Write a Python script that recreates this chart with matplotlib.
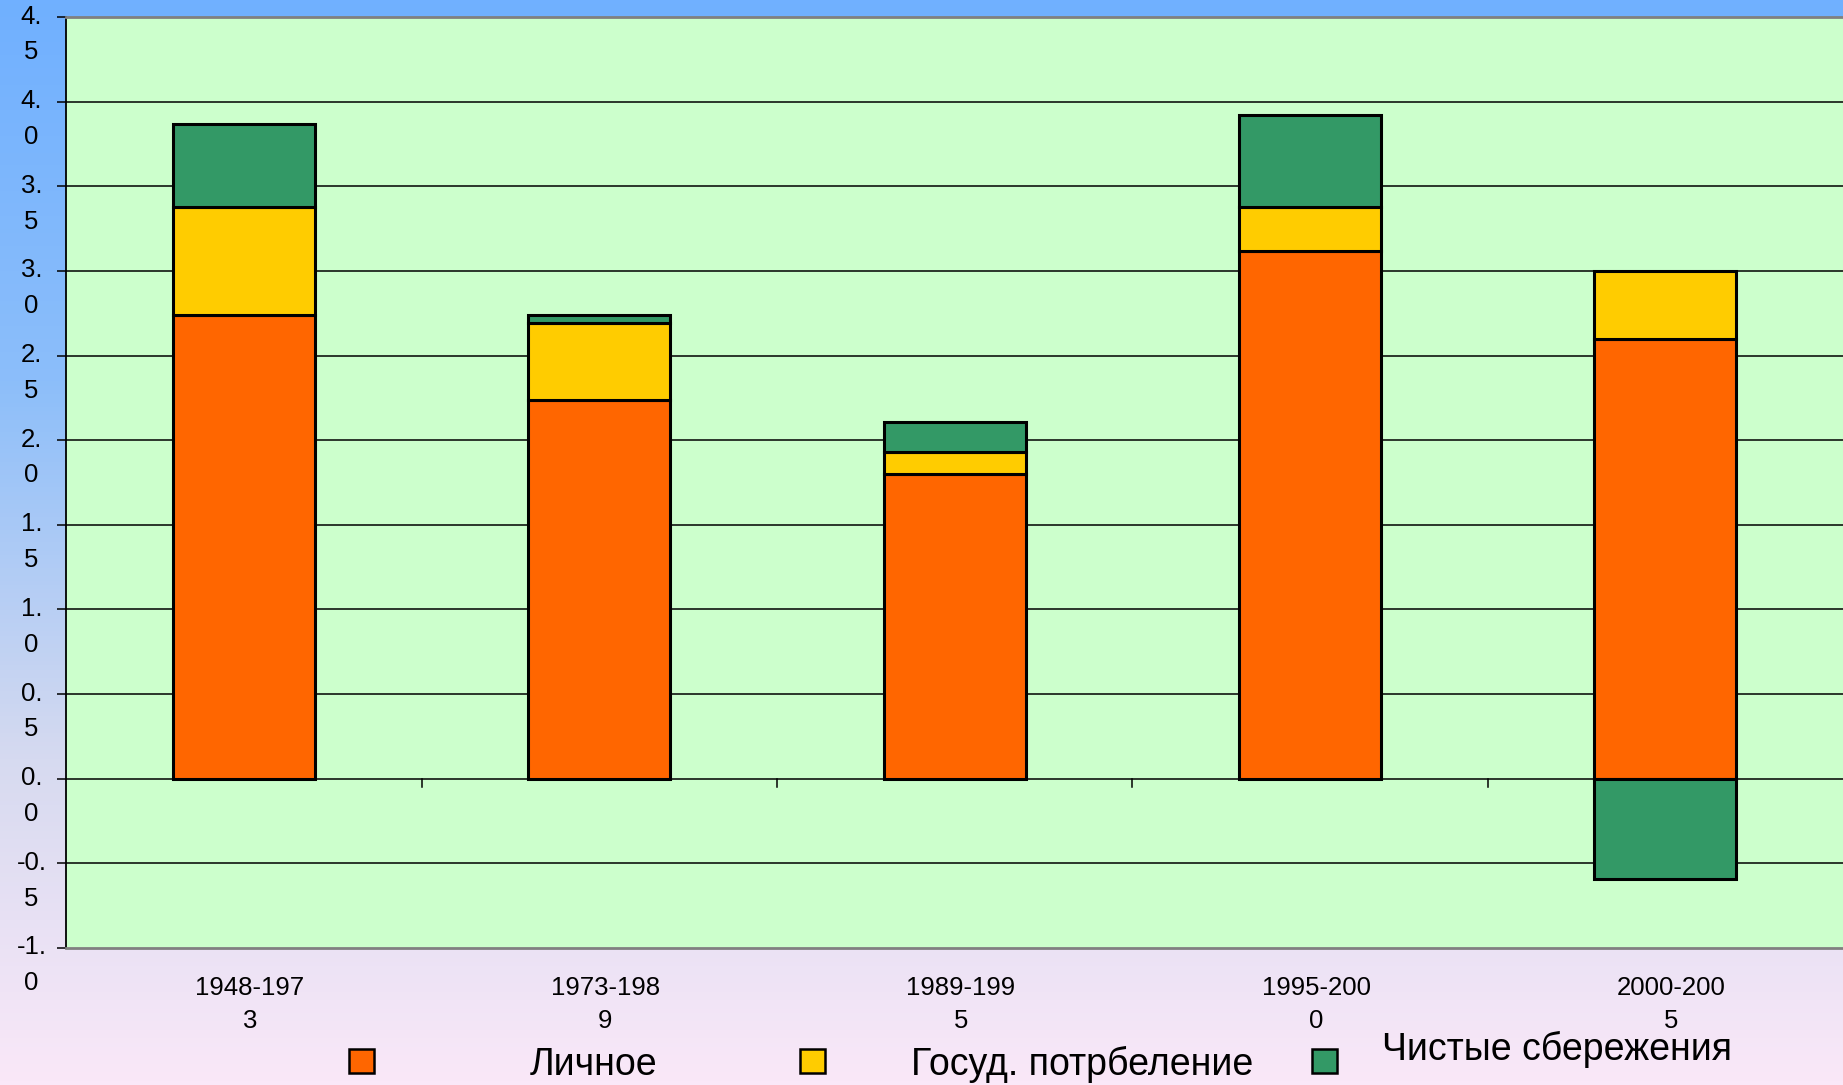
import numpy as np
import matplotlib
matplotlib.use('Agg')
import matplotlib.pyplot as plt
import matplotlib.transforms as mtransforms
from matplotlib.patches import Rectangle
from matplotlib.colors import LinearSegmentedColormap

plt.rcParams['font.family'] = ['Liberation Sans', 'DejaVu Sans']

# data
periods = ['1948-197\n3', '1973-198\n9', '1989-199\n5', '1995-200\n0', '2000-200\n5']
personal = [2.74, 2.24, 1.80, 3.12, 2.60]
govern = [0.64, 0.45, 0.13, 0.26, 0.40]
savings = [0.49, 0.05, 0.18, 0.54, -0.59]
names = ['Личное', 'Госуд. потрбеление', 'Чистые сбережения']
yticks = [4.5, 4.0, 3.5, 3.0, 2.5, 2.0, 1.5, 1.0, 0.5, 0.0, -0.5, -1.0]
ytlabels = ['4.\n5', '4.\n0', '3.\n5', '3.\n0', '2.\n5', '2.\n0', '1.\n5', '1.\n0',
            '0.\n5', '0.\n0', '-0.\n5', '-1.\n0']

c_pers = '#FF6600'
c_gov = '#FFCC00'
c_sav = '#339966'

W, H = 1843, 1085
fig = plt.figure(figsize=(W/100., H/100.), dpi=100)

# background gradient
bg = fig.add_axes([0, 0, 1, 1], zorder=-10)
cmap = LinearSegmentedColormap.from_list('bg', [(0.0, '#70B0FF'), (0.35, '#8CBEFA'),
                                                (0.7, '#D6DAF0'), (1.0, '#FAE8F8')])
bg.imshow(np.linspace(0, 1, 256).reshape(-1, 1), aspect='auto', cmap=cmap,
          extent=[0, 1, 0, 1])
bg.set_axis_off()

x0 = 66.4
ax = fig.add_axes([x0/W, (H-948.)/H, 1-x0/W, (948.-17)/H])
ax.set_facecolor('#CCFFCC')

x = np.arange(len(periods))
pers = np.array(personal)
gov = np.array(govern)
sav = np.array(savings)
bw = 0.4
ekw = dict(edgecolor='black', linewidth=2.2, zorder=3)
ax.bar(x, pers, bw, color=c_pers, **ekw)
ax.bar(x, gov, bw, bottom=pers, color=c_gov, **ekw)
ax.bar(x, sav, bw, bottom=np.where(sav >= 0, pers+gov, 0), color=c_sav, **ekw)

ax.set_xlim(-0.5, len(periods)-0.5)
ax.set_ylim(-1.0, 4.5)

# gridlines
for v in yticks[1:-1]:
    ax.axhline(v, color='black', lw=1.1, zorder=1)
# category boundary ticks at the zero line
for b in x[:-1]+0.5:
    ax.plot([b, b], [0, -0.05], color='black', lw=1.1, zorder=1)

ax.set_yticks(yticks)
ax.set_yticklabels([])
ax.tick_params(axis='y', length=6.5, width=1.1, direction='out')
for v, lab in zip(yticks, ytlabels):
    ax.annotate(lab, xy=(0, v), xycoords=('axes fraction', 'data'), xytext=(-35, -9),
                textcoords='offset pixels', ha='center', va='center_baseline', fontsize=18.5,
                linespacing=1.62, annotation_clip=False)

ax.set_xticks(x)
ax.set_xticklabels(periods, fontsize=18.5, linespacing=1.47)
ax.tick_params(axis='x', length=0, pad=20)
shift = mtransforms.ScaledTranslation(6/100., 0, fig.dpi_scale_trans)
for t in ax.get_xticklabels():
    t.set_transform(t.get_transform() + shift)

ax.spines['left'].set_color('black')
ax.spines['left'].set_linewidth(1.3)
for s in ['top', 'bottom']:
    ax.spines[s].set_color('#808080')
    ax.spines[s].set_linewidth(2)
ax.spines['right'].set_visible(False)

# legend drawn by hand
mk = [(349, 1049), (800, 1049), (1312, 1049)]
tx = [(530, 1075), (911, 1075), (1382, 1060)]
for (mx, my), (tx_, ty), col, nm in zip(mk, tx, [c_pers, c_gov, c_sav], names):
    fig.patches.append(Rectangle((mx/W, (H-my-24.)/H), 25./W, 24./H, transform=fig.transFigure,
                                 facecolor=col, edgecolor='black', lw=1.8))
    fig.text(tx_/W, (H-ty)/H, nm, fontsize=27, ha='left', va='baseline')

fig.savefig('out.png', dpi=100)
